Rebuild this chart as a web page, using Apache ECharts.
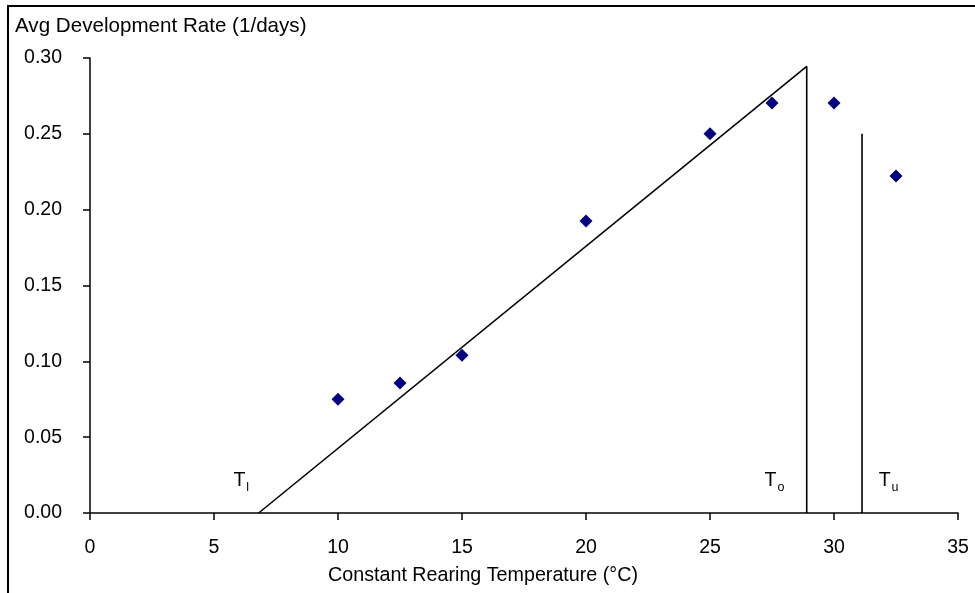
<!DOCTYPE html>
<html>
<head>
<meta charset="utf-8">
<script src="https://cdn.jsdelivr.net/npm/echarts@6/dist/echarts.min.js"></script>
<style>html,body{margin:0;padding:0;background:#fff}#c{width:975px;height:593px}</style>
</head>
<body>
<div id="c"></div>
<script>
// Observed data
const temps = [10, 12.5, 15, 20, 25, 27.5, 30, 32.5];
const rates = [0.075, 0.0857, 0.104, 0.1925, 0.25, 0.2703, 0.2703, 0.2222];
// Fitted linear model lines
const fitX = [6.8, 28.9, 28.9];
const fitY = [0, 0.2945, 0];
const tuX = [31.13, 31.13];
const tuY = [0, 0.25];
// Threshold labels
const thrNames = ['l', 'o', 'u'];
const thrX = [6.1, 27.6, 32.2];
const thrY = [0.022, 0.022, 0.022];
const xTicks = [0, 5, 10, 15, 20, 25, 30, 35];

const font = 'Liberation Sans, Arial, sans-serif';
const chart = echarts.init(document.getElementById('c'));
chart.setOption({
  animation: false,
  backgroundColor: '#fff',
  title: {
    text: 'Avg Development Rate (1/days)',
    left: 10, top: 11,
    textStyle: {fontFamily: font, fontSize: 20.6, fontWeight: 'normal', color: '#000'}
  },
  graphic: [{
    type: 'polyline',
    shape: {points: [[8, 593], [8, 6], [975, 6]]},
    style: {stroke: '#000', lineWidth: 2, fill: null},
    silent: true
  }],
  grid: {left: 90, right: 17, top: 58, bottom: 80},
  xAxis: {
    type: 'value', min: xTicks[0], max: xTicks[xTicks.length - 1], interval: 5,
    name: 'Constant Rearing Temperature (°C)',
    nameLocation: 'middle', nameGap: 53,
    nameTextStyle: {fontFamily: font, fontSize: 19.7, color: '#000', padding: [0, 82, 0, 0]},
    axisLine: {lineStyle: {color: '#000', width: 1.5}},
    axisTick: {show: true, inside: false, length: 7, lineStyle: {color: '#000', width: 1.5}},
    axisLabel: {fontFamily: font, fontSize: 19.5, color: '#000', margin: 25},
    splitLine: {show: false}
  },
  yAxis: {
    type: 'value', min: 0, max: 0.3, interval: 0.05,
    axisLine: {show: true, lineStyle: {color: '#000', width: 1.5}},
    axisTick: {show: true, inside: false, length: 7, lineStyle: {color: '#000', width: 1.5}},
    axisLabel: {fontFamily: font, fontSize: 19.5, color: '#000', margin: 28, padding: [10, 0, 0, 0],
      formatter: v => v.toFixed(2)},
    splitLine: {show: false}
  },
  series: [
    {
      type: 'line', data: fitX.map((x, i) => [x, fitY[i]]),
      symbol: 'none', lineStyle: {color: '#000', width: 1.6}, z: 2
    },
    {
      type: 'line', data: tuX.map((x, i) => [x, tuY[i]]),
      symbol: 'none', lineStyle: {color: '#000', width: 1.6}, z: 2
    },
    {
      type: 'scatter', data: temps.map((t, i) => [t, rates[i]]),
      symbol: 'diamond', symbolSize: 13,
      itemStyle: {color: '#000080', opacity: 1}, z: 3
    },
    {
      type: 'scatter', data: thrX.map((x, i) => ({value: [x, thrY[i]], name: thrNames[i]})),
      symbolSize: 0.001, silent: true,
      itemStyle: {opacity: 1},
      label: {
        show: true, position: 'inside',
        formatter: p => '{t|T}{s|' + p.name + '}',
        rich: {
          t: {fontFamily: font, fontSize: 19.5, color: '#000', lineHeight: 22, verticalAlign: 'bottom'},
          s: {fontFamily: font, fontSize: 12.5, color: '#000', lineHeight: 14, verticalAlign: 'bottom', padding: [0, 0, -3, 1]}
        }
      }
    }
  ]
});
</script>
</body>
</html>
